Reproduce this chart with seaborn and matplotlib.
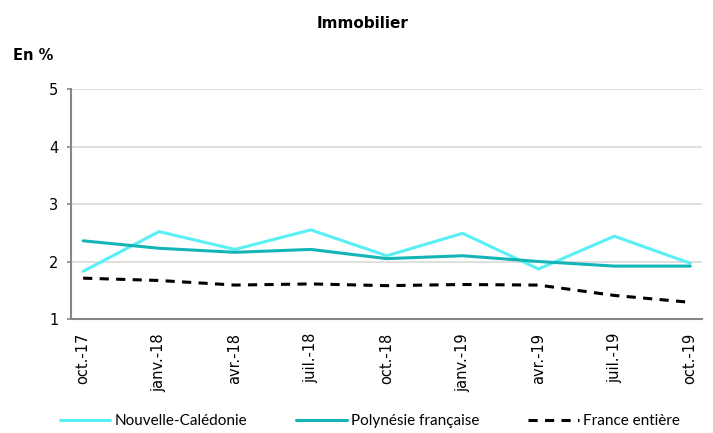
import numpy as np
import pandas as pd
import matplotlib
matplotlib.use("Agg")
import matplotlib.pyplot as plt
import seaborn as sns

# data
periods = ["oct.-17", "janv.-18", "avr.-18", "juil.-18", "oct.-18",
           "janv.-19", "avr.-19", "juil.-19", "oct.-19"]
nouvelle_caledonie = [1.83, 2.52, 2.21, 2.55, 2.10, 2.49, 1.87, 2.44, 1.97]
polynesie = [2.36, 2.23, 2.16, 2.21, 2.05, 2.10, 2.00, 1.92, 1.92]
france = [1.71, 1.67, 1.59, 1.61, 1.58, 1.60, 1.59, 1.41, 1.29]

series_names = ["Nouvelle-Calédonie", "Polynésie française", "France entière"]
colors = {"Nouvelle-Calédonie": "#58F0F5",
          "Polynésie française": "#14B4B6",
          "France entière": "#000000"}
dashes = {"Nouvelle-Calédonie": "",
          "Polynésie française": "",
          "France entière": (3.0, 2.4)}

df = pd.DataFrame({
    "idx": list(range(len(periods))) * 3,
    "value": nouvelle_caledonie + polynesie + france,
    "serie": np.repeat(series_names, len(periods)),
})

sns.set_style("white")
plt.rcParams["font.family"] = ["DejaVu Sans"]
plt.rcParams["text.color"] = "black"
plt.rcParams["xtick.color"] = "black"
plt.rcParams["ytick.color"] = "black"

fig = plt.figure(figsize=(7.13, 4.33), dpi=100)
ax = fig.add_axes([71 / 713, 1 - 319 / 433, (702 - 71) / 713, (319 - 89) / 433])

sns.lineplot(data=df, x="idx", y="value", hue="serie", style="serie",
             palette=colors, dashes=dashes, linewidth=2.2, ax=ax, legend=False)

ax.set_xlim(-0.16, 8.155)
ax.set_ylim(1, 5)
ax.set_yticks([1, 2, 3, 4, 5])
ax.set_yticklabels(["1", "2", "3", "4", "5"], fontsize=10.5)
ax.set_xticks(range(len(periods)))
ax.set_xticklabels(periods, rotation=90, fontsize=10.5)
ax.set_xticks(np.arange(len(periods)) - 0.16, minor=True)
ax.tick_params(axis="x", which="major", length=0, pad=10)
ax.tick_params(axis="x", which="minor", length=3, width=1.2, color="#868686", direction="out")
ax.tick_params(axis="y", length=3, width=1.2, color="#868686", labelcolor="black",
               pad=6, direction="out", left=True)
ax.set_xlabel("")
ax.set_ylabel("")

for y in [2, 3, 4, 5]:
    ax.axhline(y, color="#D9D9D9", linewidth=1.2, zorder=0)

for side in ["top", "right"]:
    ax.spines[side].set_visible(False)
for side in ["left", "bottom"]:
    ax.spines[side].set_color("#868686")
    ax.spines[side].set_linewidth(1.5)

fig.text(362.5 / 713, 1 - 24 / 433, "Immobilier", ha="center", va="center",
         fontsize=11, fontweight="bold", color="black")
fig.text(13 / 713, 1 - 55 / 433, "En %", ha="left", va="center",
         fontsize=10.5, fontweight="bold", color="black")

handles = [plt.Line2D([], [], color=colors[n], linewidth=2.2,
                      linestyle=(0, dashes[n]) if dashes[n] else "-")
           for n in series_names]
fig.legend(handles, series_names, loc="center", ncol=3,
           bbox_to_anchor=(370 / 713, 1 - 421 / 433), frameon=False,
           prop={"family": "Lato", "size": 11},
           handlelength=3.3, handletextpad=0.3, columnspacing=3.2)

fig.savefig("out.png", dpi=100)
